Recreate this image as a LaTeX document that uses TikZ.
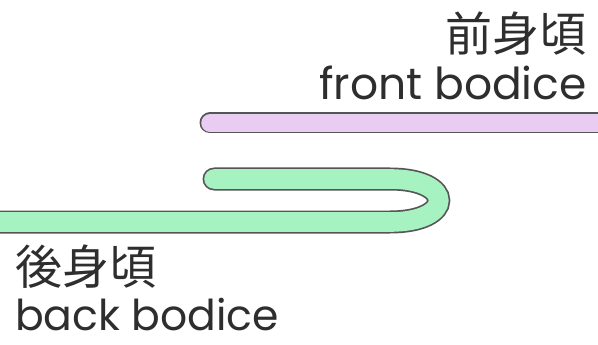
\documentclass[tikz,border=0pt]{standalone}
\usepackage{fontspec}
\setmainfont{Poppins}
\newfontfamily\cjk{Noto Sans CJK JP}
\definecolor{outl}{HTML}{555555}
\definecolor{lav}{HTML}{E8CCF2}
\definecolor{mint}{HTML}{A6F2C0}
\tikzset{
  lbl/.style={inner sep=0pt, text=black!82},
  jp/.style={lbl, font=\cjk\fontsize{47}{47}\selectfont},
  en/.style={lbl, font=\fontsize{44}{44}\selectfont},
  enb/.style={lbl, font=\fontsize{42.5}{42.5}\selectfont},
}
\begin{document}
\begin{tikzpicture}[x=1pt,y=-1pt]
\useasboundingbox (0,0) rectangle (598,345);
\fill[white] (0,0) rectangle (598,345);
% front bodice strip
\coordinate (fa) at (210,123);
\coordinate (fb) at (620,123);
\draw[outl, line width=21pt, line cap=round] (fa) -- (fb);
\draw[lav, line width=17.6pt, line cap=round] (fa) -- (fb);
% back bodice folded strip
\coordinate (ba) at (-10,222);
\coordinate (bb) at (390,222);
\coordinate (bc) at (390,179);
\coordinate (bd) at (214,179);
\draw[outl, line width=23pt, line cap=round] (ba) -- (bb) .. controls (455,222) and (455,179) .. (bc) -- (bd);
\draw[mint, line width=19.6pt, line cap=round] (ba) -- (bb) .. controls (455,222) and (455,179) .. (bc) -- (bd);
% labels
\node[jp, anchor=base east] (fj) at (587,52) {前身頃};
\node[en, anchor=base east] (fe) at (587,100) {front bodice};
\node[jp, anchor=base west] (bj) at (15,284) {後身頃};
\node[enb, anchor=base west] (be) at (15,330) {back bodice};
\end{tikzpicture}
\end{document}
